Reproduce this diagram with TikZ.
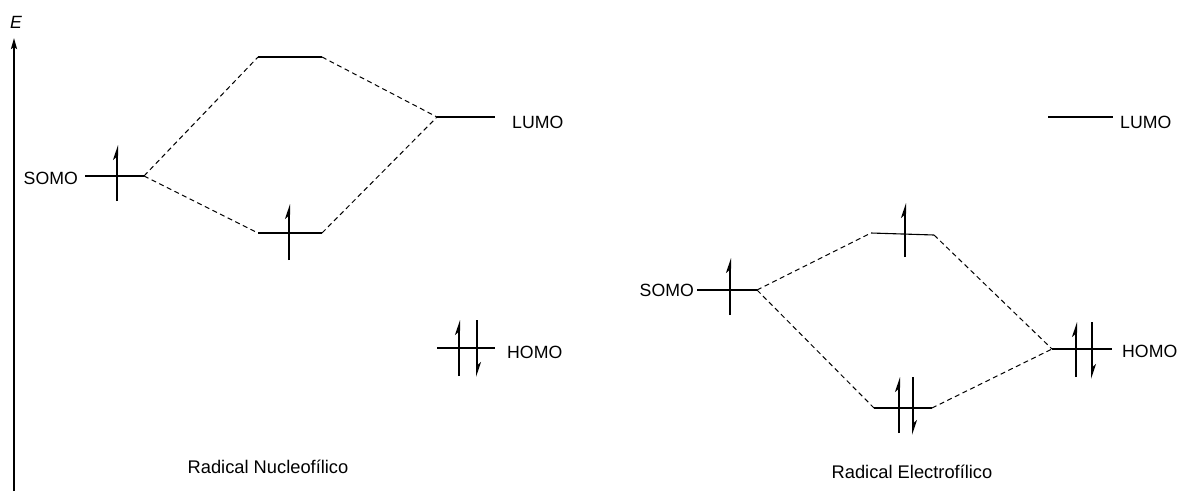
\documentclass[tikz,border=0pt]{standalone}
\usepackage{fontspec}
\setmainfont{Liberation Sans}
\usetikzlibrary{arrows.meta}
\tikzset{
  level/.style={line width=1.1pt},
  mix/.style={line width=1pt, dash pattern=on 5pt off 3.5pt},
  spin/.style={line width=2pt, -{Stealth[harpoon,length=12pt,width=8pt,inset=3.5pt]}},
  lbl/.style={font=\fontsize{17.7}{20}\selectfont, inner sep=0pt},
  captxt/.style={font=\fontsize{18.3}{21}\selectfont, inner sep=0pt},
  axis/.style={line width=1.8pt, -{Stealth[length=11pt,width=6pt,inset=2pt]}}
}
\begin{document}
\begin{tikzpicture}[x=1pt,y=-1pt]
\useasboundingbox (0,0) rectangle (1178,491);
% axis
\coordinate (ax0) at (14,491);
\coordinate (ax1) at (14,38);
\draw[axis] (ax0) -- (ax1);
\node[lbl, font=\fontsize{17.7}{20}\selectfont\itshape] (E) at (16,22) {E};

% ---------- left diagram ----------
\coordinate (lsA) at (85,176);   \coordinate (lsB) at (144,176);
\coordinate (luA) at (258,57);   \coordinate (luB) at (322,57);
\coordinate (llA) at (258,233);  \coordinate (llB) at (322,233);
\coordinate (lLA) at (437,117);  \coordinate (lLB) at (495,117);
\coordinate (lHA) at (437,348);  \coordinate (lHB) at (495,348);
\draw[level] (lsA) -- (lsB);
\draw[level] (luA) -- (luB);
\draw[level] (llA) -- (llB);
\draw[level] (lLA) -- (lLB);
\draw[level] (lHA) -- (lHB);
\draw[mix] (lsB) -- (luA);
\draw[mix] (lsB) -- (llA);
\draw[mix] (luB) -- (lLA);
\draw[mix] (llB) -- (lLA);
% spins
\coordinate (s1a) at (117,201); \coordinate (s1b) at (117,145);
\draw[spin] (s1a) -- (s1b);
\coordinate (s2a) at (289,260); \coordinate (s2b) at (289,204);
\draw[spin] (s2a) -- (s2b);
\coordinate (s3a) at (459,376); \coordinate (s3b) at (459,320);
\draw[spin] (s3a) -- (s3b);
\coordinate (s4a) at (477,320); \coordinate (s4b) at (477,377);
\draw[spin] (s4a) -- (s4b);
% labels
\node[lbl, anchor=east] (tsomoL) at (78,178) {SOMO};
\node[lbl, anchor=west] (tlumoL) at (512,122) {LUMO};
\node[lbl, anchor=west] (thomoL) at (507,352) {HOMO};
\node[captxt] (capL) at (268,467) {Radical Nucleofílico};

% ---------- right diagram ----------
\coordinate (rsA) at (697,290);  \coordinate (rsB) at (757,290);
\coordinate (ruA) at (871,233);  \coordinate (ruB) at (934,235);
\coordinate (rlA) at (874,408);  \coordinate (rlB) at (932,408);
\coordinate (rLA) at (1048,117); \coordinate (rLB) at (1113,117);
\coordinate (rHA) at (1052,349); \coordinate (rHB) at (1112,349);
\draw[level] (rsA) -- (rsB);
\draw[level] (ruA) -- (ruB);
\draw[level] (rlA) -- (rlB);
\draw[level] (rLA) -- (rLB);
\draw[level] (rHA) -- (rHB);
\draw[mix] (rsB) -- (ruA);
\draw[mix] (rsB) -- (rlA);
\draw[mix] (ruB) -- (rHA);
\draw[mix] (rlB) -- (rHA);
% spins
\coordinate (t1a) at (730,315); \coordinate (t1b) at (730,258);
\draw[spin] (t1a) -- (t1b);
\coordinate (t2a) at (905,257); \coordinate (t2b) at (905,203);
\draw[spin] (t2a) -- (t2b);
\coordinate (t3a) at (899,433); \coordinate (t3b) at (899,377);
\draw[spin] (t3a) -- (t3b);
\coordinate (t4a) at (913,377); \coordinate (t4b) at (913,435);
\draw[spin] (t4a) -- (t4b);
\coordinate (t5a) at (1076,377); \coordinate (t5b) at (1076,322);
\draw[spin] (t5a) -- (t5b);
\coordinate (t6a) at (1092,322); \coordinate (t6b) at (1092,379);
\draw[spin] (t6a) -- (t6b);
% labels
\node[lbl, anchor=east] (tsomoR) at (694,290) {SOMO};
\node[lbl, anchor=west] (tlumoR) at (1120,122) {LUMO};
\node[lbl, anchor=west] (thomoR) at (1122,351) {HOMO};
\node[captxt] (capR) at (912,472) {Radical Electrofílico};
\end{tikzpicture}
\end{document}
